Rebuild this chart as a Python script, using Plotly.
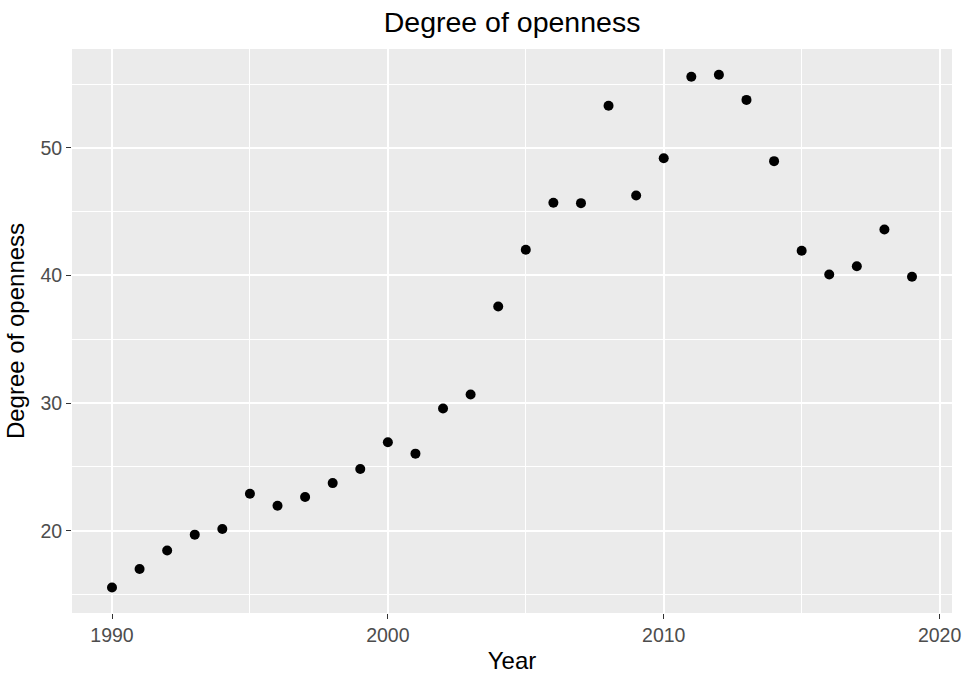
import plotly.graph_objects as go

years = list(range(1990, 2020))
openness = [15.55, 17.0, 18.45, 19.69, 20.13, 22.9, 21.96, 22.64, 23.73, 24.84,
            26.93, 26.04, 29.57, 30.67, 37.57, 42.02, 45.7, 45.67, 53.3, 46.27,
            49.19, 55.57, 55.73, 53.76, 48.96, 41.94, 40.08, 40.73, 43.6, 39.9]

x_ticks = [1990, 2000, 2010, 2020]
y_ticks = [20, 30, 40, 50]

FONT = "Liberation Sans, Arial, Helvetica, sans-serif"

fig = go.Figure()
fig.add_trace(go.Scatter(
    x=years, y=openness, mode="markers",
    marker=dict(color="black", size=10, line=dict(width=0)),
    showlegend=False,
))

axis_common = dict(
    showgrid=True, gridcolor="white", gridwidth=2,
    zeroline=False, showline=False,
    ticks="outside", ticklen=5, tickwidth=1.1, tickcolor="#333333",
    tickfont=dict(family=FONT, size=19.5, color="#4D4D4D"),
    automargin=False,
)

fig.update_layout(
    width=964, height=675,
    margin=dict(l=72, r=12, t=49, b=62),
    paper_bgcolor="white",
    plot_bgcolor="#EBEBEB",
    font=dict(family=FONT, color="black"),
    title=dict(
        text="Degree of openness",
        font=dict(family=FONT, size=28.5, color="black"),
        x=0.5312, xref="container", xanchor="center",
        y=0.968, yref="container", yanchor="middle",
    ),
    xaxis=dict(
        range=[1988.55, 2020.45],
        tickvals=x_ticks, ticktext=[str(v) for v in x_ticks],
        minor=dict(tickvals=[1995, 2005, 2015], showgrid=True, gridcolor="white",
                   gridwidth=1, ticks=""),
        title=dict(text="Year", font=dict(family=FONT, size=24, color="black"), standoff=6),
        **axis_common,
    ),
    yaxis=dict(
        range=[13.55, 57.75],
        tickvals=y_ticks, ticktext=[str(v) for v in y_ticks],
        minor=dict(tickvals=[15, 25, 35, 45, 55], showgrid=True, gridcolor="white",
                   gridwidth=1, ticks=""),
        title=dict(text="Degree of openness", font=dict(family=FONT, size=24, color="black"), standoff=8),
        **axis_common,
    ),
)

fig.write_html(
    "out.html",
    config={"displayModeBar": False},
    post_script="document.body.style.margin='0';document.body.style.overflow='hidden';",
)
